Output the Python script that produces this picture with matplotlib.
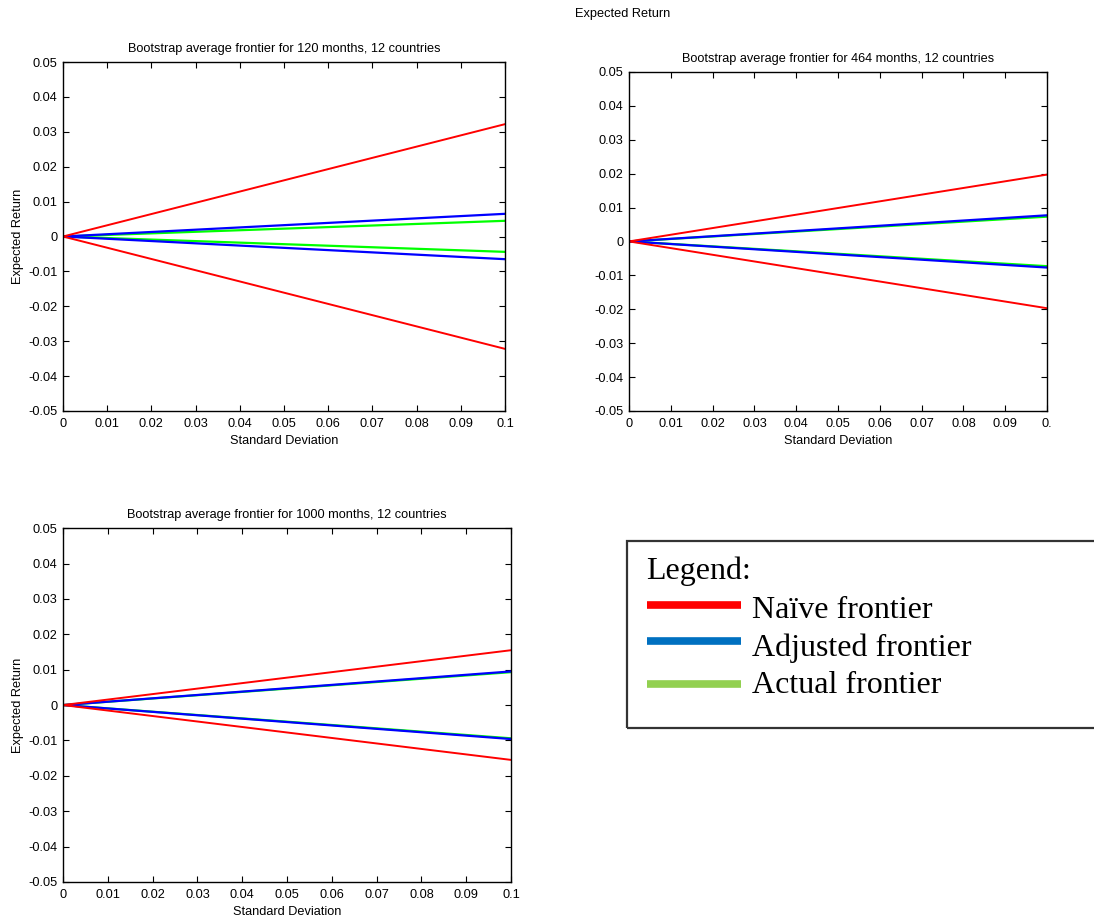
import numpy as np
import matplotlib
matplotlib.use('Agg')
import matplotlib.pyplot as plt
from matplotlib.patches import Rectangle
from matplotlib.lines import Line2D

plt.rcParams['font.family'] = ['Liberation Sans', 'DejaVu Sans']

# 横轴：标准差（起点与终点）
std_dev = [0.0, 0.1]

# 各子图的前沿终点值（上支为正、下支为负）
titles = ['Bootstrap average frontier for 120 months, 12 countries',
          'Bootstrap average frontier for 464 months, 12 countries',
          'Bootstrap average frontier for 1000 months, 12 countries']
naive_up = [0.0322, 0.0197, 0.0155]
naive_dn = [-0.0322, -0.0197, -0.0155]
adjusted_up = [0.0065, 0.0077, 0.0095]
adjusted_dn = [-0.0065, -0.0077, -0.0096]
actual_up = [0.0045, 0.0073, 0.0093]
actual_dn = [-0.0044, -0.0073, -0.0094]

x_ticks = [0, 0.01, 0.02, 0.03, 0.04, 0.05, 0.06, 0.07, 0.08, 0.09, 0.1]
x_labels = ['0', '0.01', '0.02', '0.03', '0.04', '0.05', '0.06', '0.07', '0.08', '0.09', '0.1']
x_labels_cut = x_labels[:-1] + ['0.']
y_ticks = [-0.05, -0.04, -0.03, -0.02, -0.01, 0, 0.01, 0.02, 0.03, 0.04, 0.05]
y_labels = ['-0.05', '-0.04', '-0.03', '-0.02', '-0.01', '0', '0.01', '0.02', '0.03', '0.04', '0.05']

legend_names = ['Naïve frontier', 'Adjusted frontier', 'Actual frontier']
legend_colors = ['#ff0000', '#0070c0', '#92d050']

fs = 9.2

fig = plt.figure(figsize=(10.94, 9.19), dpi=100)

positions = [[0.0576, 0.5528, 0.404, 0.3797],
             [0.575, 0.5528, 0.382, 0.369],
             [0.0576, 0.0403, 0.4095, 0.385]]

for i in range(3):
    ax = fig.add_axes(positions[i])
    ax.plot(std_dev, [0, actual_up[i]], color='#00ff00', lw=1.6)
    ax.plot(std_dev, [0, actual_dn[i]], color='#00ff00', lw=1.6)
    ax.plot(std_dev, [0, adjusted_up[i]], color='#0000ff', lw=1.6)
    ax.plot(std_dev, [0, adjusted_dn[i]], color='#0000ff', lw=1.6)
    ax.plot(std_dev, [0, naive_up[i]], color='#ff0000', lw=1.4)
    ax.plot(std_dev, [0, naive_dn[i]], color='#ff0000', lw=1.4)
    ax.set_xlim(0, 0.1)
    ax.set_ylim(-0.05, 0.05)
    ax.set_xticks(x_ticks)
    ax.set_xticklabels(x_labels_cut if i == 1 else x_labels)
    ax.set_yticks(y_ticks)
    ax.set_yticklabels(y_labels)
    ax.tick_params(direction='in', top=True, right=True, length=4, width=0.8,
                   labelsize=fs)
    ax.tick_params(axis='x', pad=5)
    ax.tick_params(axis='y', pad=4)
    for s in ax.spines.values():
        s.set_linewidth(1.0)
    ax.set_title(titles[i], fontsize=fs, pad=7)
    ax.set_xlabel('Standard Deviation', fontsize=fs, labelpad=4)
    if i != 1:
        ax.set_ylabel('Expected Return', fontsize=fs, labelpad=3)

# 第二个子图的纵轴标签跑到了顶部
fig.text(0.5256, 0.985, 'Expected Return', fontsize=fs, ha='left', va='center')

# 图例框
fig.add_artist(Rectangle((0.573, 0.2078), 0.44, 0.2035, transform=fig.transFigure,
                         fill=False, edgecolor='#333333', lw=1.6))
fig.text(0.591, 0.378, 'Legend:', fontsize=23, family='Liberation Serif',
         ha='left', va='center')
row_y = [0.3417, 0.3025, 0.2557]
text_y = [0.3352, 0.2949, 0.2546]
for k in range(3):
    fig.add_artist(Line2D([0.5914, 0.6773], [row_y[k], row_y[k]],
                          transform=fig.transFigure, color=legend_colors[k], lw=5.5,
                          solid_capstyle='butt'))
    fig.text(0.6874, text_y[k], legend_names[k], fontsize=23,
             family='Liberation Serif', ha='left', va='center')

fig.savefig('out.png', dpi=100)
